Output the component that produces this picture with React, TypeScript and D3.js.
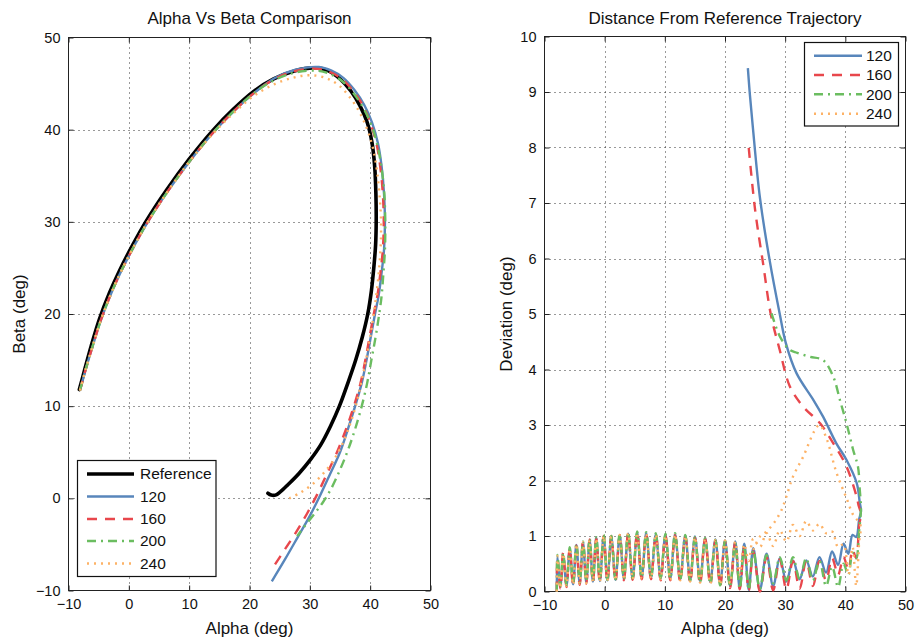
import { useEffect, useRef } from "react";
import * as d3 from "d3";

type Pt = [number, number];

const W = 916;
const H = 642;
const FONT = "'Liberation Sans', Arial, Helvetica, sans-serif";

// ---- left panel: alpha / beta trajectories (deg) ----
const refPath: Pt[] = [
  [-8.2, 11.8], [-7.3, 14.0], [-6.25, 16.5], [-4.9, 19.4], [-3.2, 22.3], [-1.55, 24.7],
  [0.65, 27.5], [2.9, 30.1], [6.2, 33.4], [10.0, 36.8], [13.9, 39.9], [17.3, 42.2],
  [20.8, 44.2], [24.0, 45.5], [27.3, 46.35], [30.9, 46.7], [33.0, 46.4], [35.0, 45.5],
  [36.8, 44.2], [38.3, 42.6], [39.5, 40.8], [40.3, 38.6], [40.75, 36], [40.95, 33],
  [41.0, 30], [40.9, 27.5], [40.6, 25], [40.2, 22.5], [39.6, 20], [38.7, 17.5],
  [37.6, 15], [36.3, 12.5], [34.9, 10], [33.4, 7.8], [31.8, 5.8], [30.1, 4.2],
  [28.2, 2.7], [26.4, 1.5], [25.1, 0.7], [24.3, 0.35], [23.6, 0.35], [23.05, 0.55],
];
const path120: Pt[] = [
  [-8.1, 11.7], [-7.1, 14.1], [-6.0, 16.5], [-4.65, 19.3], [-2.95, 22.2], [-1.3, 24.6],
  [0.9, 27.4], [3.15, 30.0], [6.45, 33.3], [10.25, 36.7], [14.15, 39.8], [17.55, 42.1],
  [21.0, 44.1], [24.2, 45.6], [27.6, 46.5], [31.5, 46.8], [33.6, 46.4], [35.6, 45.6],
  [37.4, 44.3], [39.0, 42.7], [40.3, 40.8], [41.3, 38.5], [41.9, 36], [42.3, 33],
  [42.45, 30], [42.3, 27], [41.9, 24.5], [41.4, 22], [40.8, 20], [40.1, 17.5],
  [39.4, 15], [38.6, 12.5], [37.6, 10.2], [36.4, 7.7], [35.0, 5.0], [33.4, 2.7],
  [31.7, 0.3], [30.0, -1.9], [28.0, -4.2], [25.9, -6.6], [23.7, -9.0],
];
const path160: Pt[] = [
  [-8.1, 11.7], [-7.1, 14.1], [-6.0, 16.5], [-4.65, 19.3], [-2.95, 22.2], [-1.3, 24.6],
  [0.9, 27.4], [3.15, 30.0], [6.45, 33.3], [10.25, 36.7], [14.15, 39.8], [17.55, 42.1],
  [21.0, 44.1], [24.2, 45.5], [27.5, 46.35], [31.3, 46.6], [33.5, 46.2], [35.5, 45.4],
  [37.3, 44.1], [38.9, 42.5], [40.1, 40.6], [41.1, 38.3], [41.7, 35.8], [42.1, 33],
  [42.25, 30], [42.1, 27], [41.7, 24.5], [41.2, 22], [40.6, 20], [39.9, 17.5],
  [39.2, 15], [38.4, 12.5], [37.3, 10.0], [36.0, 7.5], [34.5, 5.0], [32.8, 2.6],
  [31.2, 0.4], [29.5, -1.7], [27.6, -3.8], [25.7, -5.7], [23.9, -7.5],
];
const path200: Pt[] = [
  [-8.1, 11.7], [-7.1, 14.1], [-6.0, 16.5], [-4.65, 19.3], [-2.95, 22.2], [-1.3, 24.6],
  [0.9, 27.4], [3.15, 30.0], [6.45, 33.3], [10.25, 36.7], [14.15, 39.8], [17.55, 42.1],
  [21.0, 44.1], [24.2, 45.4], [27.5, 46.2], [31.2, 46.4], [33.5, 46.0], [35.5, 45.2],
  [37.3, 43.9], [38.9, 42.3], [40.2, 40.5], [41.2, 38.3], [41.9, 35.8], [42.35, 33],
  [42.5, 30], [42.45, 27], [42.2, 24.5], [41.9, 22], [41.5, 20], [40.9, 17.5],
  [40.2, 15], [39.5, 12.5], [38.6, 10], [37.5, 7.5], [36.3, 5.2], [35.0, 3.1],
  [33.5, 1.0], [32.2, -0.4], [30.9, -1.55], [29.4, -2.8], [27.9, -4.1],
];
const path240: Pt[] = [
  [-8.1, 11.7], [-7.1, 14.1], [-6.0, 16.5], [-4.65, 19.3], [-2.95, 22.2], [-1.3, 24.6],
  [0.9, 27.4], [3.15, 30.0], [6.45, 33.3], [10.25, 36.7], [14.15, 39.7], [17.55, 41.9],
  [20.8, 43.7], [24.0, 44.9], [27.0, 45.6], [29.5, 45.9], [31.6, 45.8], [33.4, 45.4],
  [35.0, 44.7], [36.4, 43.7], [37.8, 42.4], [38.9, 41.0], [39.8, 39.5], [40.6, 37.6],
  [41.2, 35.2], [41.6, 32.5], [41.8, 30], [41.75, 27.5], [41.5, 25], [41.1, 22.5],
  [40.6, 20], [40.0, 17.5], [39.3, 15], [38.5, 12.5], [37.6, 10], [36.6, 7.9],
  [35.4, 5.9], [33.9, 4.1], [32.1, 2.6], [30.2, 1.4], [28.4, 0.6], [26.6, 0.0],
];

// ---- right panel: deviation from reference vs alpha ----
// outbound sweep, samples alternate trough / peak of the oscillation
const outAlpha = [
  -7.95, -7.85, -7.35, -6.9, -6.35, -5.8, -5.25, -4.7, -4.15, -3.6,
  -3.05, -2.5, -1.95, -1.4, -0.8, -0.17, 0.45, 1.1, 1.8, 2.5,
  3.2, 3.9, 4.65, 5.4, 6.15, 6.9, 7.7, 8.5, 9.3, 10.1,
  10.9, 11.7, 12.55, 13.4, 14.2, 15.0, 15.85, 16.7, 17.55, 18.4,
  19.2, 20.0, 20.85, 21.7, 22.45, 23.2, 23.95, 24.7, 25.8, 26.9,
  28.0, 29.1, 30.2, 31.3, 32.4, 33.5, 34.6, 35.7, 36.8, 37.8,
  38.8, 39.7, 40.5, 41.2, 41.8, 42.3,
];
const out120 = [
  0, 0.62, 0.08, 0.66, 0.1, 0.76, 0.13, 0.84, 0.15, 0.88,
  0.16, 0.92, 0.18, 0.97, 0.19, 0.99, 0.2, 0.98, 0.21, 1.01,
  0.22, 1.04, 0.23, 1.06, 0.24, 1.05, 0.24, 1.03, 0.24, 1.02,
  0.23, 1.03, 0.22, 1.01, 0.2, 0.99, 0.19, 0.96, 0.17, 0.94,
  0.14, 0.92, 0.1, 0.9, 0.06, 0.86, 0.03, 0.78, 0.03, 0.68,
  0.1, 0.6, 0.18, 0.56, 0.22, 0.56, 0.27, 0.62, 0.34, 0.72,
  0.48, 0.86, 0.68, 1.02, 0.98, 1.3,
];
const out160 = [
  0, 0.6, 0.05, 0.7, 0.08, 0.78, 0.1, 0.83, 0.12, 0.9,
  0.14, 0.94, 0.16, 0.95, 0.17, 1.0, 0.18, 1.0, 0.19, 1.02,
  0.2, 1.03, 0.21, 1.05, 0.22, 1.04, 0.22, 1.02, 0.2, 1.0,
  0.2, 1.02, 0.18, 0.98, 0.16, 0.97, 0.14, 0.95, 0.12, 0.92,
  0.1, 0.9, 0.06, 0.88, 0.04, 0.8, 0.02, 0.72, 0.0, 0.62,
  0.02, 0.58, 0.04, 0.55, 0.05, 0.55, 0.1, 0.55, 0.2, 0.6,
  0.3, 0.62, 0.4, 0.75, 0.6, 1.2,
];
const out200 = [
  0, 0.66, 0.1, 0.7, 0.12, 0.8, 0.14, 0.86, 0.16, 0.9,
  0.18, 0.95, 0.19, 0.98, 0.2, 1.02, 0.21, 1.0, 0.22, 1.04,
  0.23, 1.07, 0.24, 1.08, 0.25, 1.07, 0.25, 1.05, 0.24, 1.04,
  0.23, 1.05, 0.21, 1.02, 0.19, 0.98, 0.16, 0.96, 0.14, 0.93,
  0.11, 0.91, 0.08, 0.87, 0.05, 0.8, 0.03, 0.74, 0.05, 0.66,
  0.15, 0.62, 0.2, 0.62, 0.22, 0.6, 0.2, 0.55, 0.1, 0.45,
  0.08, 0.5, 0.3, 0.7, 0.6, 1.1,
];
const out240 = [
  0, 0.64, 0.06, 0.68, 0.1, 0.77, 0.12, 0.85, 0.14, 0.89,
  0.15, 0.93, 0.17, 0.96, 0.18, 1.0, 0.19, 0.99, 0.2, 1.02,
  0.21, 1.05, 0.22, 1.06, 0.23, 1.05, 0.23, 1.03, 0.22, 1.01,
  0.21, 1.03, 0.2, 1.0, 0.18, 0.98, 0.16, 0.95, 0.14, 0.93,
  0.12, 0.92, 0.15, 0.9, 0.3, 0.85, 0.55, 0.95, 0.8, 1.05,
  0.82, 1.1, 0.9, 1.2, 1.0, 1.27, 1.1, 1.22, 1.05, 1.08,
  0.8, 0.85, 0.3, 0.8, 0.1, 0.9,
];
// return sweep (alpha decreasing)
const back120: Pt[] = [
  [42.6, 1.45], [42.4, 1.6], [41.9, 1.95], [40.2, 2.37], [38.5, 2.67], [36.3, 3.15],
  [34.7, 3.45], [31.9, 3.93], [30.1, 4.48], [29.1, 5.0], [27.4, 5.98], [25.8, 7.1],
  [24.6, 8.4], [24.1, 9.0], [23.8, 9.43],
];
const back160: Pt[] = [
  [42.6, 1.4], [42.2, 1.55], [41.9, 1.7], [40.2, 2.25], [38.0, 2.67], [35.8, 3.03],
  [33.0, 3.33], [30.8, 3.69], [29.1, 4.35], [27.6, 5.0], [26.4, 5.86], [25.0, 6.88],
  [23.9, 8.05],
];
const back200: Pt[] = [
  [42.6, 1.5], [42.4, 1.83], [42.1, 2.25], [41.3, 2.55], [40.2, 3.03], [39.1, 3.45],
  [38.0, 3.87], [36.3, 4.17], [34.1, 4.23], [32.0, 4.3], [30.8, 4.35], [29.1, 4.6],
  [27.5, 5.1],
];
const back240: Pt[] = [
  [42.5, 1.2], [41.3, 1.38], [40.2, 1.68], [38.5, 2.15], [36.9, 2.75], [35.7, 3.0],
  [34.9, 2.9], [33.0, 2.43], [31.3, 2.07], [30.2, 1.71], [29.4, 1.47], [28.3, 1.26],
  [26.9, 1.08], [25.8, 0.99], [24.7, 0.75],
];

const alphaTicks = [-10, 0, 10, 20, 30, 40, 50];
const betaTicks = [-10, 0, 10, 20, 30, 40, 50];
const devTicks = [0, 1, 2, 3, 4, 5, 6, 7, 8, 9, 10];

const series = [
  { name: "120", color: "#5886bb", dash: null, left: path120, out: out120, back: back120 },
  { name: "160", color: "#e8474c", dash: "10 8", left: path160, out: out160, back: back160 },
  { name: "200", color: "#6bbd60", dash: "9 5 2 5", left: path200, out: out200, back: back200 },
  { name: "240", color: "#fdb266", dash: "2 5", left: path240, out: out240, back: back240 },
];

function drawFrame(svg: any, x: any, y: any, xt: number[], yt: number[], title: string, xl: string, yl: string, ylX: number) {
  const [l, r] = x.range();
  const [b, t] = y.range();

  const grid = svg.append("g").attr("stroke", "#333").attr("stroke-dasharray", "1 4").attr("stroke-width", 1);
  grid.append("g").selectAll("line").data(xt.slice(1, -1)).join("line")
    .attr("x1", (d: number) => Math.round(x(d)) + 0.5).attr("x2", (d: number) => Math.round(x(d)) + 0.5)
    .attr("y1", t).attr("y2", b);
  grid.append("g").selectAll("line").data(yt.slice(1, -1)).join("line")
    .attr("y1", (d: number) => Math.round(y(d)) + 0.5).attr("y2", (d: number) => Math.round(y(d)) + 0.5)
    .attr("x1", l).attr("x2", r);

  const style = (g: any) => {
    g.attr("font-size", 14.5).attr("font-family", FONT);
    g.select(".domain").remove();
    g.selectAll("line").attr("stroke", "#222");
    g.selectAll("text").attr("fill", "#111");
  };
  svg.append("g").attr("transform", `translate(0,${b})`)
    .call(d3.axisBottom(x).tickValues(xt).tickSize(-5).tickPadding(8)).call(style);
  svg.append("g").attr("transform", `translate(0,${t})`)
    .call(d3.axisTop(x).tickValues(xt).tickSize(-5).tickFormat(() => "")).call(style);
  svg.append("g").attr("transform", `translate(${l},0)`)
    .call(d3.axisLeft(y).tickValues(yt).tickSize(-5).tickPadding(8)).call(style);
  svg.append("g").attr("transform", `translate(${r},0)`)
    .call(d3.axisRight(y).tickValues(yt).tickSize(-5).tickFormat(() => "")).call(style);

  svg.append("rect").attr("x", l).attr("y", t).attr("width", r - l).attr("height", b - t)
    .attr("fill", "none").attr("stroke", "#222");

  svg.append("text").attr("x", (l + r) / 2).attr("y", 24).attr("text-anchor", "middle")
    .attr("font-family", FONT).attr("font-size", 17).attr("fill", "#111").text(title);
  svg.append("text").attr("x", (l + r) / 2).attr("y", 634).attr("text-anchor", "middle")
    .attr("font-family", FONT).attr("font-size", 17).attr("fill", "#111").text(xl);
  svg.append("text").attr("transform", `translate(${ylX},${(t + b) / 2}) rotate(-90)`).attr("text-anchor", "middle")
    .attr("font-family", FONT).attr("font-size", 17).attr("fill", "#111").text(yl);
}

function drawLegend(svg: any, box: { x: number; y: number; w: number; h: number }, rows: any[], rowY: number[], lx0: number, lx1: number, tx: number) {
  svg.append("rect").attr("x", box.x).attr("y", box.y).attr("width", box.w).attr("height", box.h)
    .attr("fill", "#fff").attr("stroke", "#111").attr("stroke-width", 1.2);
  rows.forEach((s, i) => {
    svg.append("line").attr("x1", lx0).attr("x2", lx1).attr("y1", rowY[i]).attr("y2", rowY[i])
      .attr("stroke", s.color).attr("stroke-width", s.width || 2.4)
      .attr("stroke-dasharray", s.dash);
    svg.append("text").attr("x", tx).attr("y", rowY[i]).attr("dy", "0.35em")
      .attr("font-family", FONT).attr("font-size", 15.5).attr("fill", "#111").text(s.name);
  });
}

export default function App() {
  const ref = useRef<SVGSVGElement>(null);

  useEffect(() => {
    const svg = d3.select(ref.current);
    svg.selectAll("*").remove();

    // left panel
    const xL = d3.scaleLinear().domain([-10, 50]).range([68.5, 430.5]);
    const yL = d3.scaleLinear().domain([-10, 50]).range([590.5, 37.5]);
    drawFrame(svg, xL, yL, alphaTicks, betaTicks, "Alpha Vs Beta Comparison", "Alpha (deg)", "Beta (deg)", 25);

    const lineL = d3.line<Pt>().x((d) => xL(d[0])).y((d) => yL(d[1])).curve(d3.curveCatmullRom.alpha(0.5));
    svg.append("path").attr("d", lineL(refPath)).attr("fill", "none").attr("stroke", "#000")
      .attr("stroke-width", 3.6).attr("stroke-linejoin", "round").attr("stroke-linecap", "round");
    series.forEach((s) => {
      svg.append("path").attr("d", lineL(s.left)).attr("fill", "none").attr("stroke", s.color)
        .attr("stroke-width", 2.4).attr("stroke-dasharray", s.dash).attr("stroke-linejoin", "round");
    });

    drawLegend(
      svg,
      { x: 77.5, y: 460.5, w: 138.5, h: 116 },
      [{ name: "Reference", color: "#000", dash: null, width: 3.6 }, ...series],
      [474, 496.5, 519, 541, 563.5],
      87, 134, 140,
    );

    // right panel
    const xR = d3.scaleLinear().domain([-10, 50]).range([544.5, 905.5]);
    const yR = d3.scaleLinear().domain([0, 10]).range([591.5, 36.5]);
    drawFrame(svg, xR, yR, alphaTicks, devTicks, "Distance From Reference Trajectory", "Alpha (deg)", "Deviation (deg)", 512);

    const lineR = d3.line<Pt>().x((d) => xR(d[0])).y((d) => yR(d[1])).curve(d3.curveCatmullRom.alpha(0.5));
    series.forEach((s) => {
      const pts: Pt[] = outAlpha.map((a, i) => [a, s.out[i]] as Pt).concat(s.back);
      svg.append("path").attr("d", lineR(pts)).attr("fill", "none").attr("stroke", s.color)
        .attr("stroke-width", 2.4).attr("stroke-dasharray", s.dash).attr("stroke-linejoin", "round");
    });

    drawLegend(
      svg,
      { x: 804.5, y: 42.5, w: 94, h: 83.5 },
      series,
      [55.7, 75, 94.3, 113.7],
      814, 862, 866,
    );
  }, []);

  return (
    <svg
      ref={ref}
      width={W}
      height={H}
      style={{ position: "absolute", left: 0, top: 0, background: "#fff" }}
    />
  );
}
